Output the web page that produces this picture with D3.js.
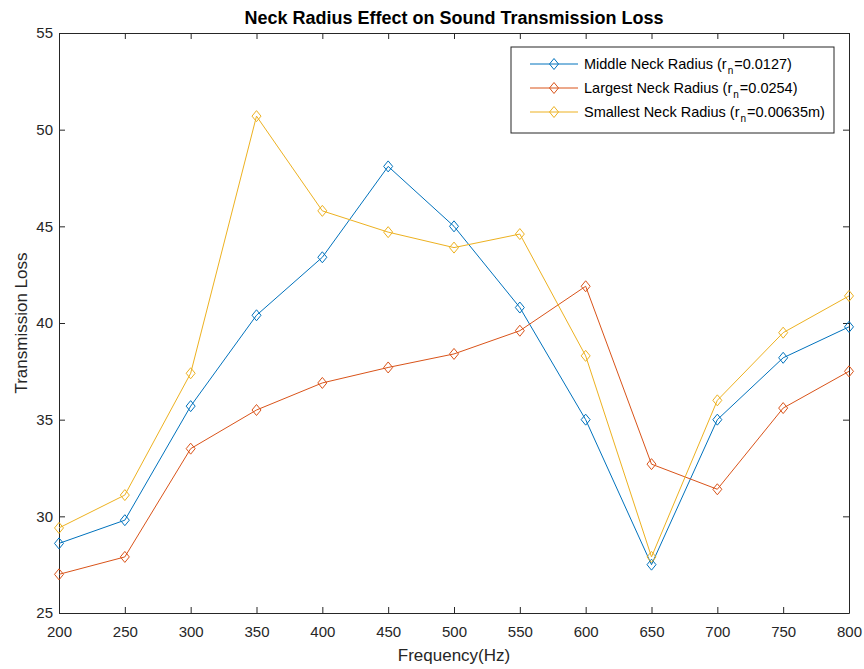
<!DOCTYPE html>
<html>
<head>
<meta charset="utf-8">
<script src="https://cdn.jsdelivr.net/npm/d3@7"></script>
<style>
  body { margin: 0; background: #fff; }
  svg { font-family: "Liberation Sans", Arial, sans-serif; }
</style>
</head>
<body>
<svg id="chart" width="864" height="669"></svg>
<script>
// data
var freqs = [200, 250, 300, 350, 400, 450, 500, 550, 600, 650, 700, 750, 800];
var middleNeck = [28.6, 29.8, 35.7, 40.4, 43.4, 48.1, 45.0, 40.8, 35.0, 27.5, 35.0, 38.2, 39.8];
var largestNeck = [27.0, 27.9, 33.5, 35.5, 36.9, 37.7, 38.4, 39.6, 41.9, 32.7, 31.4, 35.6, 37.5];
var smallestNeck = [29.4, 31.1, 37.4, 50.7, 45.8, 44.7, 43.9, 44.6, 38.3, 27.9, 36.0, 39.5, 41.4];
var yTicks = [25, 30, 35, 40, 45, 50, 55];

var series = [
  { name: "Middle Neck Radius (r", sub: "n", tail: "=0.0127)", values: middleNeck, color: "#0072BD" },
  { name: "Largest Neck Radius (r", sub: "n", tail: "=0.0254)", values: largestNeck, color: "#D95319" },
  { name: "Smallest Neck Radius (r", sub: "n", tail: "=0.00635m)", values: smallestNeck, color: "#EDB120" }
];

var margin = { top: 33, right: 15, bottom: 56, left: 59 },
  width = 864 - margin.left - margin.right,
  height = 669 - margin.top - margin.bottom;

var svg = d3.select("#chart")
  .append("g")
  .attr("transform", "translate(" + margin.left + "," + margin.top + ")");

var x = d3.scaleLinear().domain([200, 800]).range([0, width]);
var y = d3.scaleLinear().domain([25, 55]).range([height, 0]);

var axisColor = "#262626";
var tickLen = 6;

function styleAxis(g) {
  g.select(".domain").attr("stroke", axisColor);
  g.selectAll(".tick line").attr("stroke", axisColor);
  g.selectAll(".tick text").attr("fill", axisColor).style("font-size", "15px");
}

// bottom and left axes, ticks pointing inwards like MATLAB
svg.append("g")
  .attr("transform", "translate(0," + height + ")")
  .call(d3.axisBottom(x).tickValues(freqs).tickSizeInner(-tickLen).tickSizeOuter(0).tickPadding(13))
  .call(styleAxis);

svg.append("g")
  .call(d3.axisLeft(y).tickValues(yTicks).tickSizeInner(-tickLen).tickSizeOuter(0).tickPadding(6))
  .call(styleAxis);

// top and right axes without labels
svg.append("g")
  .call(d3.axisTop(x).tickValues(freqs).tickSizeInner(-tickLen).tickSizeOuter(0).tickFormat(""))
  .call(styleAxis);

svg.append("g")
  .attr("transform", "translate(" + width + ",0)")
  .call(d3.axisRight(y).tickValues(yTicks).tickSizeInner(-tickLen).tickSizeOuter(0).tickFormat(""))
  .call(styleAxis);

// lines
var line = d3.line()
  .x(function(d, i) { return x(freqs[i]); })
  .y(function(d) { return y(d); });

// diamond marker, a bit taller than wide
var diamond = "M0,-5.5L4.5,0L0,5.5L-4.5,0Z";

series.forEach(function(s) {
  svg.append("path")
    .datum(s.values)
    .attr("fill", "none")
    .attr("stroke", s.color)
    .attr("stroke-width", 1)
    .attr("d", line);

  svg.selectAll(null)
    .data(s.values)
    .enter()
    .append("path")
    .attr("d", diamond)
    .attr("transform", function(d, i) {
      return "translate(" + x(freqs[i]) + "," + y(d) + ")";
    })
    .attr("fill", "none")
    .attr("stroke", s.color)
    .attr("stroke-width", 1);
});

// title
svg.append("text")
  .attr("x", width / 2)
  .attr("y", -9)
  .attr("text-anchor", "middle")
  .style("font-size", "18px")
  .style("font-weight", "bold")
  .attr("fill", "#000")
  .text("Neck Radius Effect on Sound Transmission Loss");

// axis labels
svg.append("text")
  .attr("x", width / 2)
  .attr("y", height + 48)
  .attr("text-anchor", "middle")
  .style("font-size", "17px")
  .attr("fill", axisColor)
  .text("Frequency(Hz)");

svg.append("text")
  .attr("transform", "rotate(-90)")
  .attr("x", -height / 2)
  .attr("y", -32)
  .attr("text-anchor", "middle")
  .style("font-size", "17px")
  .attr("fill", axisColor)
  .text("Transmission Loss");

// legend
var legend = svg.append("g")
  .attr("transform", "translate(" + (511 - margin.left) + "," + (47 - margin.top) + ")");

legend.append("rect")
  .attr("width", 323)
  .attr("height", 86)
  .attr("fill", "#fff")
  .attr("stroke", axisColor)
  .attr("stroke-width", 1);

series.forEach(function(s, i) {
  var ly = 17 + i * 24;
  legend.append("line")
    .attr("x1", 19).attr("x2", 67)
    .attr("y1", ly).attr("y2", ly)
    .attr("stroke", s.color)
    .attr("stroke-width", 1);
  legend.append("path")
    .attr("d", diamond)
    .attr("transform", "translate(43," + ly + ")")
    .attr("fill", "none")
    .attr("stroke", s.color)
    .attr("stroke-width", 1);
  var t = legend.append("text")
    .attr("x", 73)
    .attr("y", ly + 5)
    .style("font-size", "14.5px")
    .attr("fill", "#000");
  t.append("tspan").text(s.name);
  t.append("tspan").attr("dx", 1).attr("dy", 5).style("font-size", "10px").text(s.sub);
  t.append("tspan").attr("dx", 1).attr("dy", -5).text(s.tail);
});
</script>
</body>
</html>
